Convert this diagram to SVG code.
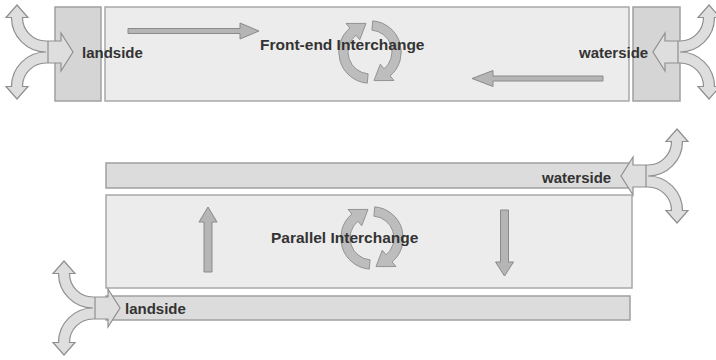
<svg xmlns="http://www.w3.org/2000/svg" width="716" height="360" viewBox="0 0 716 360">
<style>
.main{fill:#ececec;stroke:#a8a8a8;stroke-width:1.5}
.side{fill:#d5d5d5;stroke:#a0a0a0;stroke-width:1.5}
.strip{fill:#dcdcdc;stroke:#a0a0a0;stroke-width:1.5}
.fork{fill:#dedede;stroke:#8f8f8f;stroke-width:1.2}
.flow{fill:#b5b5b5;stroke:#8a8a8a;stroke-width:1}
.cyc{fill:#bdbdbd;stroke:#8e8e8e;stroke-width:0.7}
text{font-family:"Liberation Sans",Arial,sans-serif;font-weight:bold;fill:#333;font-size:15px}
.big{font-size:15.5px}
</style>
<defs>
<path id="forkShape" class="fork" d="M-2,-11 L13,-11 L13,-19 L25,0 L13,19 L13,11 L-2,11 A23.5,23.5 0 0 0 -25.5,34.5 L-20,34.5 L-31,47 L-42,34.5 L-36.5,34.5 A34.5,34.5 0 0 1 -2,0 A34.5,34.5 0 0 1 -36.5,-34.5 L-42,-34.5 L-31,-47 L-20,-34.5 L-25.5,-34.5 A23.5,23.5 0 0 0 -2,-11 Z M0,-11 V11"/>
<g id="cycle">
<path class="cyc" d="M2.05,-23.41 A23.5,23.5 0 0 1 15.11,18.00 L18.0,21.45 L3.0,21.5 L7.71,9.19 L10.61,12.64 A16.5,16.5 0 0 0 1.44,-16.44 Z"/>
<path class="cyc" d="M-2.05,23.41 A23.5,23.5 0 0 1 -15.11,-18.00 L-18.0,-21.45 L-3.0,-21.5 L-7.71,-9.19 L-10.61,-12.64 A16.5,16.5 0 0 0 -1.44,16.44 Z"/>
</g>
</defs>

<g id="frontend-main">
<rect class="main" x="105" y="7" width="524" height="94"/>
</g>
<g id="frontend-landside">
<rect class="side" x="55" y="7" width="46" height="94"/>
</g>
<g id="frontend-waterside">
<rect class="side" x="633" y="7" width="47" height="94"/>
</g>

<g id="parallel-waterside">
<rect class="strip" x="106" y="163" width="524" height="25"/>
</g>
<g id="parallel-main">
<rect class="main" x="106" y="195" width="526" height="93"/>
</g>
<g id="parallel-landside">
<rect class="strip" x="106" y="296" width="524" height="24"/>
</g>

<g id="connectors">
<use href="#forkShape" transform="translate(48,52)"/>
<use href="#forkShape" transform="translate(678,52) scale(-1,1)"/>
<use href="#forkShape" transform="translate(646,176) scale(-1,1)"/>
<use href="#forkShape" transform="translate(95,308)"/>
<path class="flow" d="M128,28.5 H240 V23 L259,31 L240,39 V33.5 H128 Z"/>
<path class="flow" d="M603,76 H493 V70.5 L472,78.5 L493,86.5 V81 H603 Z"/>
<path class="flow" d="M204,272 V222 H199 L208,207 L217,222 H212 V272 Z"/>
<path class="flow" d="M500.5,210 V262 H495.5 L504.5,276 L513.5,262 H508.5 V210 Z"/>
<use href="#cycle" transform="translate(370,52) scale(1.33)"/>
<use href="#cycle" transform="translate(372,238) scale(1.33)"/>
</g>

<g id="labels">
<text class="big" x="260" y="50">Front-end Interchange</text>
<text x="82" y="58">landside</text>
<text x="579" y="58">waterside</text>
<text class="big" x="271" y="243">Parallel Interchange</text>
<text x="542" y="183">waterside</text>
<text x="125" y="314">landside</text>
</g>
</svg>
